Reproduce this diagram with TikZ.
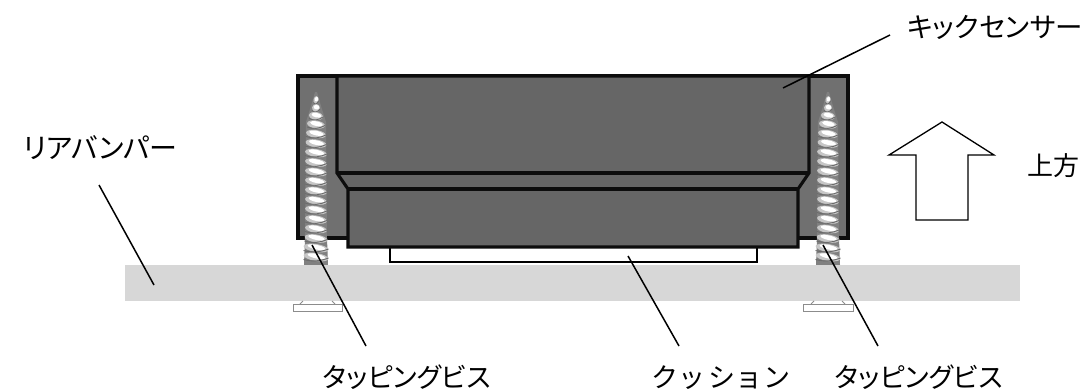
\documentclass[tikz,border=0pt]{standalone}
\usepackage{fontspec}
\setmainfont[RawFeature={+palt}]{Noto Sans CJK JP}
\definecolor{bodygray}{HTML}{666666}
\definecolor{sidegray}{HTML}{707070}
\definecolor{bumper}{HTML}{D7D7D7}
\newcommand{\gp}{\kern5.5pt\relax}
\tikzset{
  blockline/.style={draw=black!95,line width=3.1pt,line join=miter,fill=bodygray},
  leader/.style={draw=black,line width=1.5pt},
  label/.style={font=\fontsize{27pt}{27pt}\selectfont,inner sep=0pt,anchor=base west,text=black},
  headline/.style={draw=black!45,line width=1pt,fill=white},
  arrowline/.style={draw=black,line width=1.3pt,line join=miter,fill=white}
}
\newcommand{\screwat}[1]{%
  \begin{scope}[shift={(#1,0)}]
    \fill[black!50] (-1,92) -- (1,92) -- (5,106) -- (10,122) -- (11,238) -- (12,265) -- (-12,265) -- (-11,238) -- (-10,122) -- (-5,106) -- cycle;
    \foreach \y/\w in {100/2.5,108/4,116/7,124.5/9,134/10,143.5/10.5,153/11,162.5/11,172/11,181.5/11,191/11,200.5/11,210/11,219.5/11,229/11,238.5/11.5,248/12.5,257/12.5}{
      \fill[black!22,rotate around={-9:(0,\y)}] (0,\y) ellipse ({\w pt} and 4pt);
      \fill[white,rotate around={-12:(0.5,\y-0.8)}] (0.5,\y-0.8) ellipse ({0.72*\w pt} and 2.3pt);
      \draw[black!58,line width=0.9pt] (-\w,\y+2.5) .. controls (-\w*0.3,\y+5) and (\w*0.4,\y+4) .. (\w,\y+1);
    }
  \end{scope}}
\begin{document}
\begin{tikzpicture}[x=1pt,y=-1pt]
\useasboundingbox (0,0) rectangle (1087,391);
% outer body
\draw[blockline,fill=sidegray] (298,76) rectangle (848,238);
% screws
\screwat{316}
\screwat{828}
% cushion
\draw[draw=black,line width=2.2pt,fill=white] (390,245) rectangle (757,262);
% main block
\draw[blockline] (337,76) -- (809,76) -- (809,173) -- (798,189) -- (798,247) -- (348,247) -- (348,189) -- (337,173) -- cycle;
\draw[draw=black!95,line width=3.1pt] (337,173) -- (809,173);
\draw[draw=black!95,line width=3.1pt] (348,189) -- (798,189);
% bumper
\fill[bumper] (125,265) rectangle (1020,301);
% screw heads
\draw[headline] (293,304) rectangle (342,311);
\draw[headline] (300,304) -- (303,301) (335,304) -- (332,301);
\draw[headline] (803,304) rectangle (853,311);
\draw[headline] (811,304) -- (814,301) (845,304) -- (842,301);
% up arrow
\draw[arrowline] (942,122) -- (994,155) -- (968,155) -- (968,220) -- (916,220) -- (916,155) -- (889,155) -- cycle;
% labels
\node[label,font=\fontsize{27.5pt}{27.5pt}\selectfont] (kick) at (907,37) {キックセンサー};
\node[label,font=\fontsize{28pt}{28pt}\selectfont] (rear) at (23,158) {リアバンパー};
\node[label,font=\fontsize{26pt}{26pt}\selectfont] (up) at (1027,175) {上方};
\node[label] (screwL) at (323,387) {タッピングビス};
\node[label] (cushion) at (652,387) {ク\gp ッ\gp シ\gp ョ\gp ン};
\node[label] (screwR) at (835,387) {タッピングビス};
% leaders
\coordinate (kickA) at (890,35);
\coordinate (kickB) at (783,88);
\coordinate (rearA) at (99,185);
\coordinate (rearB) at (154,285);
\coordinate (slA) at (366,346);
\coordinate (slB) at (312,245);
\coordinate (cuA) at (679,346);
\coordinate (cuB) at (628,256);
\coordinate (srA) at (878,346);
\coordinate (srB) at (823,245);
\draw[leader] (kickA) -- (kickB);
\draw[leader] (rearA) -- (rearB);
\draw[leader] (slA) -- (slB);
\draw[leader] (cuA) -- (cuB);
\draw[leader] (srA) -- (srB);
\end{tikzpicture}
\end{document}
